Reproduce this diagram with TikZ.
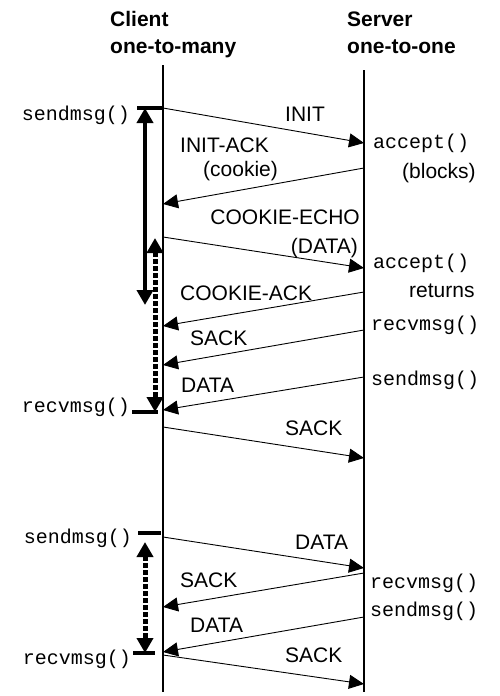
\documentclass[tikz,border=0pt]{standalone}
\usepackage{fontspec}
\setmainfont{Liberation Sans}
\setmonofont{Liberation Mono}
\usetikzlibrary{arrows.meta}

\tikzset{
  title/.style={font=\fontsize{21}{25}\selectfont\bfseries, inner sep=0pt},
  msglabel/.style={font=\fontsize{21}{25}\selectfont, inner sep=0pt},
  call/.style={font=\fontsize{20}{24}\selectfont\ttfamily, inner sep=0pt},
  lifeline/.style={line width=2pt},
  msg/.style={line width=0.9pt, -{Triangle[length=15pt,width=14pt]}},
  tick/.style={line width=4pt},
  waitsolid/.style={line width=4pt, {Triangle[length=15pt,width=16pt]}-{Triangle[length=15pt,width=16pt]}},
  waitdotted/.style={line width=5pt, dash pattern=on 4.5pt off 2.5pt,
    {Triangle[length=15pt,width=16pt]}-{Triangle[length=15pt,width=16pt]}}
}

\begin{document}
\begin{tikzpicture}[x=1pt,y=-1pt]
  \useasboundingbox (0,0) rectangle (500,696);

  % Titles
  \node[title, anchor=base west] (clienttitle) at (110,27) {Client};
  \node[title, anchor=base west] (clientkind) at (110,53) {one-to-many};
  \node[title, anchor=base west] (servertitle) at (347,27) {Server};
  \node[title, anchor=base west] (serverkind) at (347,53) {one-to-one};

  % Lifelines
  \coordinate (ctop) at (163,65);
  \coordinate (cbot) at (163,692);
  \coordinate (stop) at (364,70);
  \coordinate (sbot) at (364,692);
  \draw[lifeline] (ctop) -- (cbot);
  \draw[lifeline] (stop) -- (sbot);

  % Message end points (c = client side, s = server side)
  \coordinate (c1) at (163,108);  \coordinate (s1) at (364,143);
  \coordinate (s2) at (364,168);  \coordinate (c2) at (163,204);
  \coordinate (c3) at (163,237);  \coordinate (s3) at (364,268);
  \coordinate (s4) at (364,292);  \coordinate (c4) at (163,326);
  \coordinate (s5) at (364,330);  \coordinate (c5) at (163,365);
  \coordinate (s6) at (364,377);  \coordinate (c6) at (163,410);
  \coordinate (c7) at (163,427);  \coordinate (s7) at (364,458);
  \coordinate (c8) at (163,537);  \coordinate (s8) at (364,568);
  \coordinate (s9) at (364,573);  \coordinate (c9) at (163,607);
  \coordinate (s10) at (364,617); \coordinate (c10) at (163,652);
  \coordinate (c11) at (163,655); \coordinate (s11) at (364,684);

  % Association setup
  \draw[msg] (c1) -- (s1);
  \node[msglabel, anchor=base west] (init) at (285,121) {INIT};
  \draw[msg] (s2) -- (c2);
  \node[msglabel, anchor=base west] (initack) at (180,152) {INIT-ACK};
  \node[msglabel, anchor=base west] (cookie) at (203,176) {(cookie)};
  \draw[msg] (c3) -- (s3);
  \node[msglabel, anchor=base east] (cookieecho) at (360,224) {COOKIE-ECHO};
  \node[msglabel, anchor=base east] (echodata) at (358,253) {(DATA)};
  \draw[msg] (s4) -- (c4);
  \node[msglabel, anchor=base west] (cookieack) at (180,300) {COOKIE-ACK};
  \draw[msg] (s5) -- (c5);
  \node[msglabel, anchor=base west] (sack1) at (190,345) {SACK};
  \draw[msg] (s6) -- (c6);
  \node[msglabel, anchor=base west] (data1) at (181,392) {DATA};
  \draw[msg] (c7) -- (s7);
  \node[msglabel, anchor=base west] (sack2) at (285,435) {SACK};

  % Later exchange
  \draw[msg] (c8) -- (s8);
  \node[msglabel, anchor=base west] (data2) at (295,549) {DATA};
  \draw[msg] (s9) -- (c9);
  \node[msglabel, anchor=base west] (sack3) at (180,587) {SACK};
  \draw[msg] (s10) -- (c10);
  \node[msglabel, anchor=base west] (data3) at (190,632) {DATA};
  \draw[msg] (c11) -- (s11);
  \node[msglabel, anchor=base west] (sack4) at (285,662) {SACK};

  % Server side calls
  \node[call, anchor=base west] (accept1) at (373,148) {accept()};
  \node[msglabel, anchor=base west] (blocks) at (402,178) {(blocks)};
  \node[call, anchor=base west] (accept2) at (373,268) {accept()};
  \node[msglabel, anchor=base west] (returns) at (409,297) {returns};
  \node[call, anchor=base west] (srecv1) at (371,330) {recvmsg()};
  \node[call, anchor=base west] (ssend1) at (371,385) {sendmsg()};
  \node[call, anchor=base west] (srecv2) at (370,588) {recvmsg()};
  \node[call, anchor=base west] (ssend2) at (370,616) {sendmsg()};

  % Client side calls and ticks
  \node[call, anchor=base east] (csend1) at (130,120) {sendmsg()};
  \draw[tick] (137,108) -- (c1);
  \node[call, anchor=base east] (crecv1) at (130,412) {recvmsg()};
  \draw[tick] (132,412) -- (158,412);
  \node[call, anchor=base east] (csend2) at (132,543) {sendmsg()};
  \draw[tick] (138,533) -- (161,533);
  \node[call, anchor=base east] (crecv2) at (131,664) {recvmsg()};
  \draw[tick] (133,653) -- (155,653);

  % Blocking periods
  \coordinate (w1top) at (145,108);  \coordinate (w1bot) at (145,305);
  \coordinate (w2top) at (155,238);  \coordinate (w2bot) at (155,412);
  \coordinate (w3top) at (145,542);  \coordinate (w3bot) at (145,653);
  \draw[waitsolid] (w1top) -- (w1bot);
  \draw[waitdotted] (w2top) -- (w2bot);
  \draw[waitdotted] (w3top) -- (w3bot);

\end{tikzpicture}
\end{document}
